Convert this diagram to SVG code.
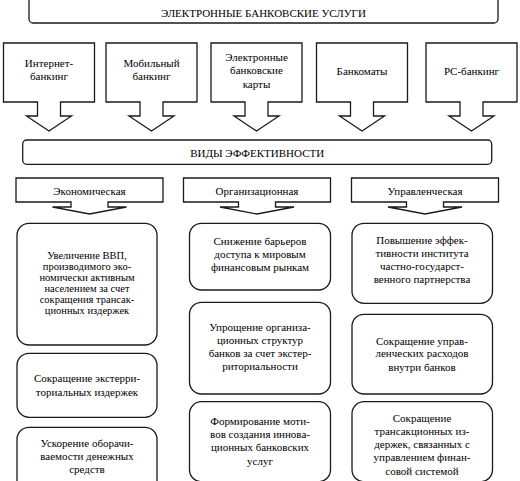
<svg xmlns="http://www.w3.org/2000/svg" xmlns:xlink="http://www.w3.org/1999/xlink" width="520" height="481" viewBox="0 0 520 481" font-family="'Liberation Serif', 'DejaVu Serif', serif">
<style>
.sh{fill:#fff;stroke:#1a1a1a;stroke-width:1.3;stroke-linejoin:miter}
text{font-family:'Liberation Serif','DejaVu Serif',serif;font-size:11px;fill:#000;text-anchor:middle}
.s{font-size:10.5px}
</style>
<defs>
<path id="callout" d="M0,0 H91 V59 H57 V73 H68 L45.5,88 L23,73 H34 V59 H0 Z"/>
<path id="cat" d="M0,0 H147 V24 H92 V29 H110.5 L73.5,36 L36.5,29 H55 V24 H0 Z"/>
</defs>
<rect width="520" height="481" fill="#fff"/>
<g id="connectors"></g>
<g id="top">
<rect class="sh" x="29" y="-4" width="469" height="27" rx="4"/>
<text x="263.5" y="16.5">ЭЛЕКТРОННЫЕ БАНКОВСКИЕ УСЛУГИ</text>
</g>
<g id="internet">
<use xlink:href="#callout" class="sh" transform="translate(3.5,43)"/>
<text x="49" y="66.5">Интернет-</text>
<text x="49" y="80">банкинг</text>
</g>
<g id="mobile">
<use xlink:href="#callout" class="sh" transform="translate(106,43)"/>
<text x="151.5" y="66.5">Мобильный</text>
<text x="151.5" y="80">банкинг</text>
</g>
<g id="cards">
<use xlink:href="#callout" class="sh" transform="translate(211,43)"/>
<text x="256.5" y="61">Электронные</text>
<text x="256.5" y="74.3">банковские</text>
<text x="256.5" y="87.5">карты</text>
</g>
<g id="atm">
<use xlink:href="#callout" class="sh" transform="translate(316.5,43)"/>
<text x="362" y="75">Банкоматы</text>
</g>
<g id="pc">
<use xlink:href="#callout" class="sh" transform="translate(426,43)"/>
<text x="471.5" y="75">PC-банкинг</text>
</g>
<g id="types">
<rect class="sh" x="22.7" y="140" width="469" height="24.3" rx="4"/>
<text x="257.2" y="157">ВИДЫ ЭФФЕКТИВНОСТИ</text>
</g>
<g id="econ">
<use xlink:href="#cat" class="sh" transform="translate(16,178)"/>
<text x="89.5" y="194.5">Экономическая</text>
</g>
<g id="org">
<use xlink:href="#cat" class="sh" transform="translate(183.5,178)"/>
<text x="257" y="194.5">Организационная</text>
</g>
<g id="mgmt">
<use xlink:href="#cat" class="sh" transform="translate(351.5,178)"/>
<text x="425" y="194.5">Управленческая</text>
</g>
<g id="a1">
<rect class="sh" x="17" y="223.3" width="140" height="121.7" rx="12"/>
<text class="s" x="87" y="259.3">Увеличение ВВП,</text>
<text class="s" x="87" y="270.2">производимого эко-</text>
<text class="s" x="87" y="281.1">номически активным</text>
<text class="s" x="87" y="292">населением за счет</text>
<text class="s" x="87" y="303.1">сокращения трансак-</text>
<text class="s" x="87" y="314.3">ционных издержек</text>
</g>
<g id="a2">
<rect class="sh" x="17" y="353.3" width="140" height="64" rx="12"/>
<text x="87" y="382.1">Сокращение экстерри-</text>
<text x="87" y="395.5">ториальных издержек</text>
</g>
<g id="a3">
<rect class="sh" x="17" y="427.3" width="140" height="70" rx="12"/>
<text x="87" y="446.5">Ускорение оборачи-</text>
<text x="87" y="459.8">ваемости денежных</text>
<text x="87" y="473.1">средств</text>
</g>
<g id="b1">
<rect class="sh" x="189.5" y="223.3" width="141" height="66.7" rx="12"/>
<text x="260" y="245">Снижение барьеров</text>
<text x="260" y="258.2">доступа к мировым</text>
<text x="260" y="270.5">финансовым рынкам</text>
</g>
<g id="b2">
<rect class="sh" x="189.5" y="302.3" width="141" height="91.7" rx="12"/>
<text x="260" y="330.5">Упрощение организа-</text>
<text x="260" y="343.5">ционных структур</text>
<text x="260" y="356.8">банков за счет экстер-</text>
<text x="260" y="369.8">риториальности</text>
</g>
<g id="b3">
<rect class="sh" x="189.5" y="401.7" width="141" height="80" rx="12"/>
<text x="260" y="424.5">Формирование моти-</text>
<text x="260" y="437.9">вов создания иннова-</text>
<text x="260" y="451.3">ционных банковских</text>
<text x="260" y="464.6">услуг</text>
</g>
<g id="c1">
<rect class="sh" x="352" y="223.3" width="140.5" height="80" rx="12"/>
<text x="422" y="243.8">Повышение эффек-</text>
<text x="422" y="257">тивности института</text>
<text x="422" y="269.8">частно-государст-</text>
<text x="422" y="283">венного партнерства</text>
</g>
<g id="c2">
<rect class="sh" x="352" y="314.3" width="140.5" height="79.7" rx="12"/>
<text x="422" y="344.5">Сокращение управ-</text>
<text x="422" y="357.1">ленческих расходов</text>
<text x="422" y="370.5">внутри банков</text>
</g>
<g id="c3">
<rect class="sh" x="352" y="401.7" width="140.5" height="80" rx="12"/>
<text x="422" y="422.1">Сокращение</text>
<text x="422" y="435.2">трансакционных из-</text>
<text x="422" y="448.3">держек, связанных с</text>
<text x="422" y="461.4">управлением финан-</text>
<text x="422" y="474.5">совой системой</text>
</g>
</svg>
